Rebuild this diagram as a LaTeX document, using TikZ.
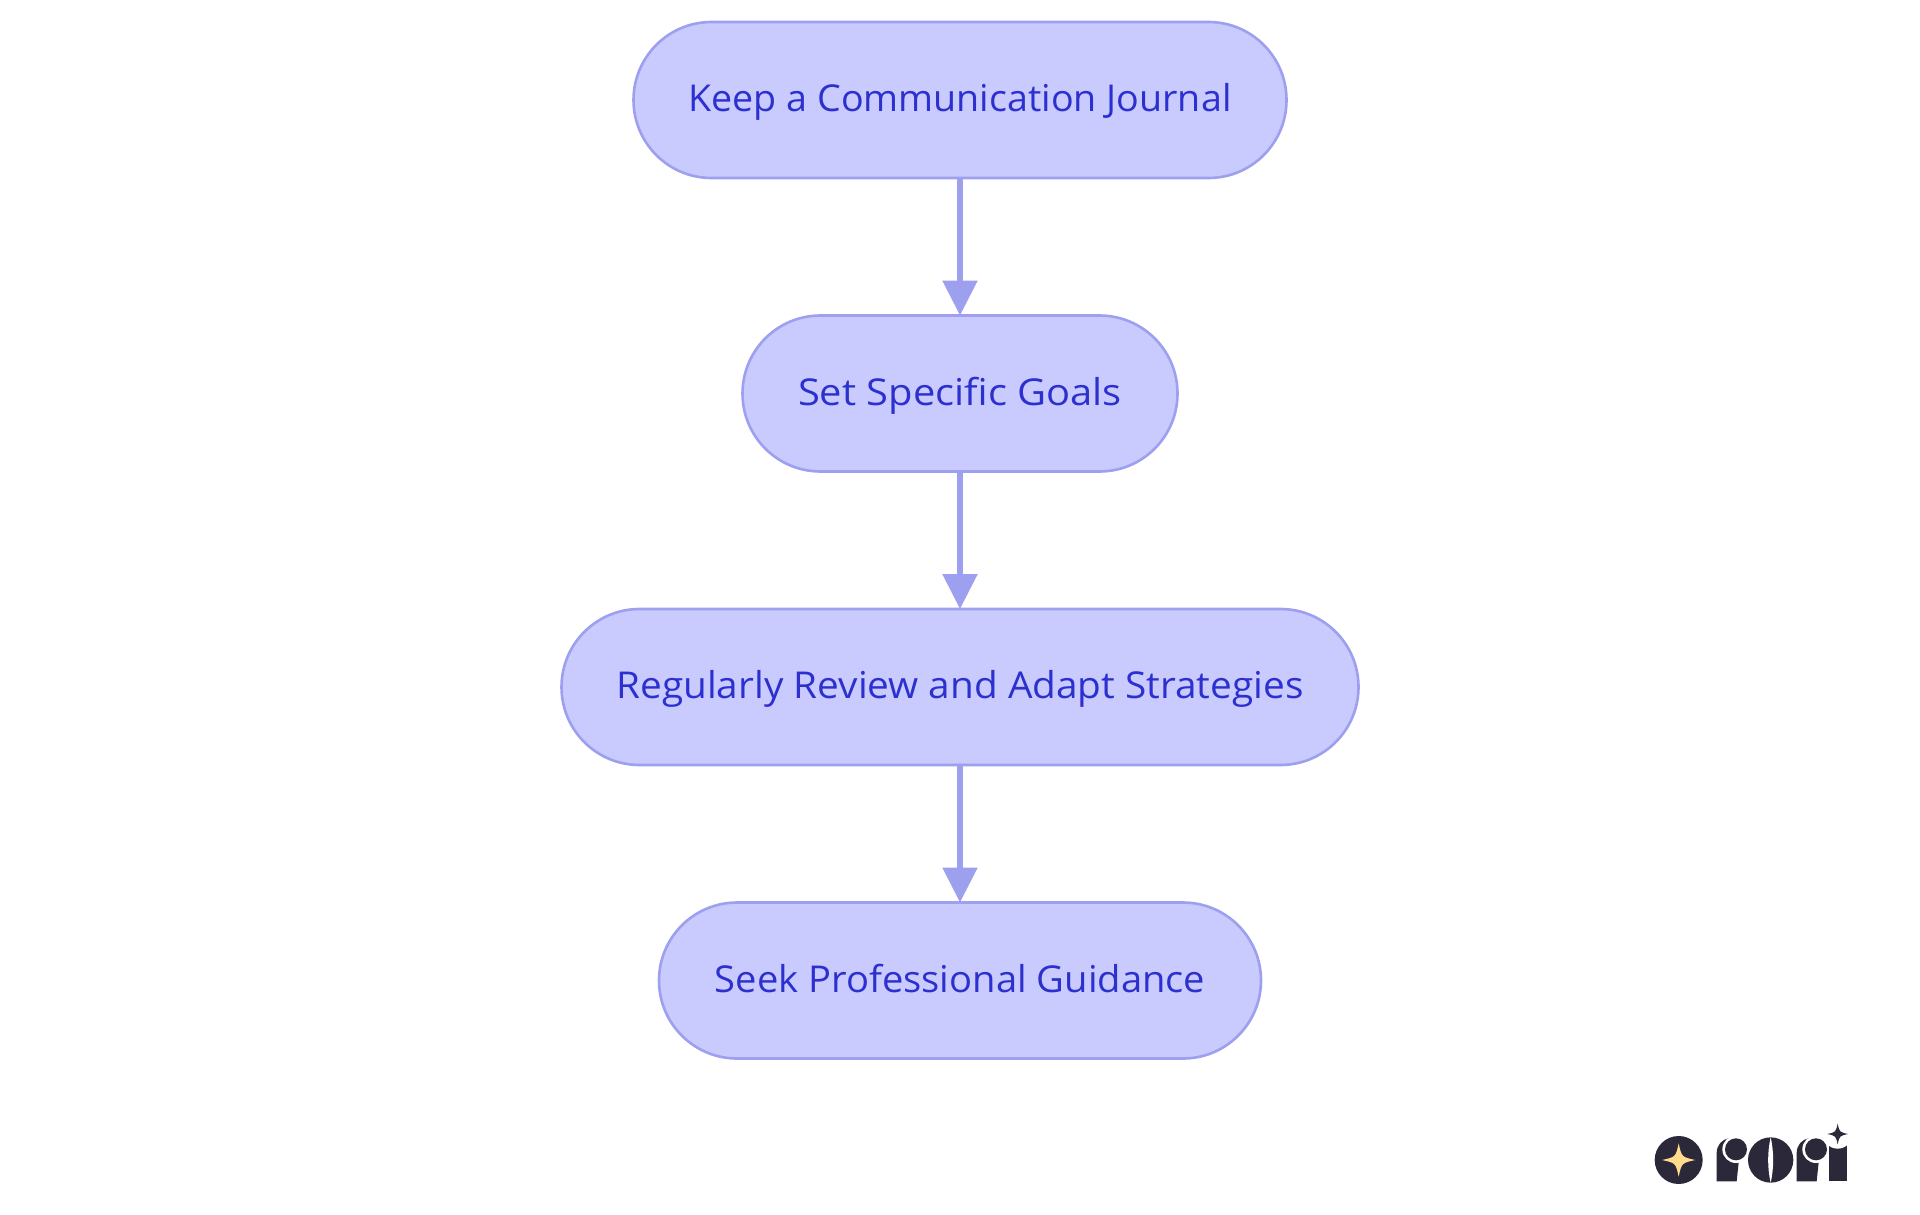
\documentclass[tikz,border=0pt]{standalone}
\usepackage{fontspec}
\setmainfont{Open Sans}
\usetikzlibrary{arrows.meta}
\definecolor{nodefill}{HTML}{C9CBFE}
\definecolor{nodeline}{HTML}{9D9FEF}
\definecolor{nodetext}{HTML}{2C30CE}
\definecolor{logodark}{HTML}{2A2839}
\definecolor{logostar}{HTML}{FFDB8E}
\tikzset{
  flowbox/.style={draw=nodeline,fill=nodefill,line width=2.6pt,rounded corners=78pt,minimum height=156pt,text height=34pt,text depth=11pt,text=nodetext,font=\fontsize{37}{44}\selectfont,inner sep=0pt,outer sep=0pt},
  flowarrow/.style={draw=nodeline,line width=5.5pt,-{Triangle[length=35pt,width=34pt,fill=nodeline,color=nodeline]}},
  logoshape/.style={fill=logodark,draw=none},
  logogap/.style={fill=white,draw=none},
}
\newcommand{\logostar}[4]{% x y r colour
  \fill[#4] (#1,#2-#3) .. controls (#1+0.18*#3,#2-0.18*#3) .. (#1+#3,#2) .. controls (#1+0.18*#3,#2+0.18*#3) .. (#1,#2+#3) .. controls (#1-0.18*#3,#2+0.18*#3) .. (#1-#3,#2) .. controls (#1-0.18*#3,#2-0.18*#3) .. cycle;}
\begin{document}
\begin{tikzpicture}[x=1pt,y=-1pt]
\useasboundingbox (0,0) rectangle (1920,1215);
\fill[white] (0,0) rectangle (1920,1215);
\node[flowbox,minimum width=653pt] (a) at (960,100) {\scalebox{1.017}[1]{Keep a Communication Journal}};
\node[flowbox,minimum width=435pt] (b) at (960,393.5) {\scalebox{1.078}[1]{Set Specific Goals}};
\node[flowbox,minimum width=797pt] (c) at (960,687) {\scalebox{1.047}[1]{Regularly Review and Adapt Strategies}};
\node[flowbox,minimum width=602pt] (d) at (960,980.5) {\scalebox{1.031}[1]{Seek Professional Guidance}};
\draw[flowarrow] (a.south) -- (b.north);
\draw[flowarrow] (b.south) -- (c.north);
\draw[flowarrow] (c.south) -- (d.north);
\begin{scope}[shift={(1640,1110)},x=0.3333pt,y=-0.3333pt]
  \fill[logoshape] (116,150) circle[radius=72];
  \logostar{116}{150}{50}{logostar}
  % first r
  \fill[logoshape] (230,214) -- (230,130) .. controls (230,105) and (245,88) .. (268,85) -- (300,120) -- (290,214) -- cycle;
  \fill[logogap] (288,118) circle[radius=41];
  \fill[logoshape] (288,118) circle[radius=33];
  % o
  \fill[logoshape] (392,150) circle[radius=68];
  \fill[logogap] (392,82) .. controls (382,125) and (382,175) .. (392,218) .. controls (402,175) and (402,125) .. (392,82) -- cycle;
  % second r
  \fill[logoshape] (470,214) -- (470,130) .. controls (470,105) and (485,88) .. (508,85) -- (540,120) -- (530,214) -- cycle;
  \fill[logogap] (528,118) circle[radius=41];
  \fill[logoshape] (528,118) circle[radius=33];
  % i
  \fill[logoshape] (566,214) -- (566,104) -- (620,104) -- (620,214) -- cycle;
  \fill[logogap] (593,72) circle[radius=44];
  \logostar{593}{72}{31}{logodark}
\end{scope}
\end{tikzpicture}
\end{document}
